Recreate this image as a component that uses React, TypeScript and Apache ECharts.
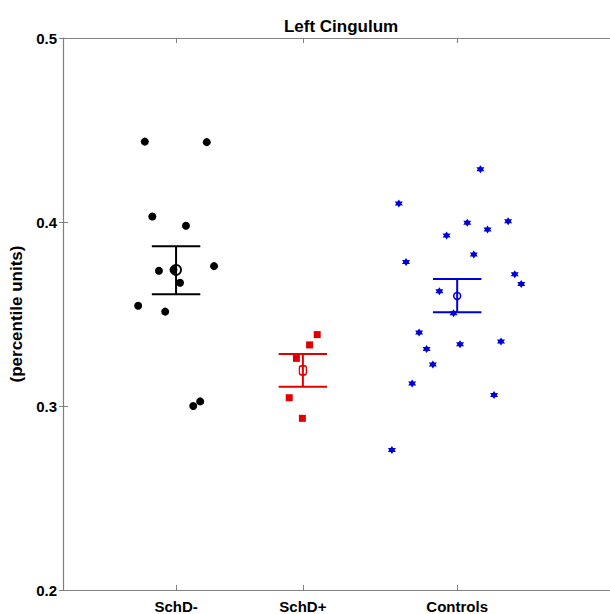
import React, { useEffect, useRef } from "react";
import * as echarts from "echarts";

// ---- data ----
const categories = ["SchD-", "SchD+", "Controls"];
const categoryPositions = [1.143, 2.425, 3.985];

const schdMinusJitter = [-0.316, 0.31, -0.24, 0.1, 0.384, -0.173, -0.026, 0.04, -0.383, -0.11, 0.174, 0.244];
const schdMinusValues = [0.4437, 0.4434, 0.403, 0.398, 0.376, 0.3735, 0.374, 0.367, 0.3545, 0.3513, 0.3, 0.3025];

const schdPlusJitter = [0.145, 0.068, -0.065, -0.138, -0.005];
const schdPlusValues = [0.3388, 0.3332, 0.3259, 0.3045, 0.2933];

const controlsJitter = [0.235, -0.59, 0.102, 0.515, 0.307, -0.107, 0.168, -0.517, 0.582, 0.648, -0.18, -0.037, -0.385, 0.443, 0.029, -0.309, -0.246, -0.455, 0.373, -0.66];
const controlsValues = [0.4287, 0.41, 0.3996, 0.4004, 0.3959, 0.3927, 0.3823, 0.3783, 0.3716, 0.3663, 0.3623, 0.3504, 0.3399, 0.3351, 0.3335, 0.331, 0.3225, 0.3122, 0.306, 0.2761];

const groupMeans = [0.374, 0.3194, 0.3598];
const groupLower = [0.3608, 0.3105, 0.3509];
const groupUpper = [0.3868, 0.3283, 0.369];

const yTicks = [0.2, 0.3, 0.4, 0.5];

// ---- styles ----
const COLORS = ["#000000", "#e00000", "#0000d8"];
const AXIS_COLOR = "#808080";
const FONT = "'Liberation Sans', Arial, Helvetica, sans-serif";
const CAP = 0.245;
const STAR =
  "path://M0,-10L2.9,-5L8.66,-5L5.8,0L8.66,5L2.9,5L0,10L-2.9,5L-8.66,5L-5.8,0L-8.66,-5L-2.9,-5Z";

function pts(center: number, jit: number[], vals: number[]) {
  return vals.map((v, i) => [center + jit[i], v]);
}

export default function App() {
  const ref = useRef<HTMLDivElement>(null);
  useEffect(() => {
    if (!ref.current) return;
    const chart = echarts.init(ref.current, null, { renderer: "svg" });
    const labelFor = (v: number) => {
      let best = 0;
      categoryPositions.forEach((p, i) => {
        if (Math.abs(p - v) < Math.abs(categoryPositions[best] - v)) best = i;
      });
      return categories[best];
    };
    const xCommon = {
      type: "value",
      min: 0,
      max: 5.53,
      splitLine: { show: false },
      axisLine: { show: true, onZero: false, lineStyle: { color: AXIS_COLOR, width: 1.2 } },
    };
    const yCommon = {
      type: "value",
      min: 0.2,
      max: 0.5,
      interval: 0.1,
      splitLine: { show: false },
      axisLine: { show: true, onZero: false, lineStyle: { color: AXIS_COLOR, width: 1.2 } },
      axisTick: { show: true, inside: true, length: 5, lineStyle: { color: AXIS_COLOR } },
    };
    chart.setOption({
      animation: false,
      backgroundColor: "#ffffff",
      title: {
        text: "Left Cingulum",
        left: 336,
        textAlign: "center",
        top: 13,
        textStyle: { fontFamily: FONT, fontWeight: "bold", fontSize: 17, color: "#000" },
      },
      grid: { left: 59, right: -3, top: 38, bottom: 23, containLabel: false },
      xAxis: [
        {
          ...xCommon,
          position: "bottom",
          axisTick: { show: true, inside: true, length: 5, customValues: categoryPositions, lineStyle: { color: AXIS_COLOR } },
          axisLabel: {
            show: true,
            customValues: categoryPositions,
            formatter: (v: number) => labelFor(v),
            margin: 9,
            fontFamily: FONT,
            fontWeight: "bold",
            fontSize: 15,
            color: "#000",
          },
        },
        {
          ...xCommon,
          position: "top",
          axisTick: { show: true, inside: true, length: 5, customValues: categoryPositions, lineStyle: { color: AXIS_COLOR } },
          axisLabel: { show: false },
        },
      ],
      yAxis: [
        {
          ...yCommon,
          position: "left",
          name: "(percentile units)",
          nameLocation: "middle",
          nameRotate: 90,
          nameGap: 38,
          nameTextStyle: { fontFamily: FONT, fontWeight: "bold", fontSize: 17, color: "#000" },
          axisLabel: {
            show: true,
            margin: 6,
            customValues: yTicks,
            formatter: (v: number) => v.toFixed(1),
            fontFamily: FONT,
            fontWeight: "bold",
            fontSize: 15,
            color: "#000",
          },
        },
        {
          ...yCommon,
          position: "right",
          axisLine: { show: false },
          axisTick: { show: true, inside: true, length: 4, lineStyle: { color: AXIS_COLOR } },
          axisLabel: { show: false },
        },
      ],
      series: [
        {
          type: "scatter",
          symbol: "circle",
          symbolSize: 8,
          itemStyle: { color: COLORS[0], opacity: 1 },
          data: pts(categoryPositions[0], schdMinusJitter, schdMinusValues),
        },
        {
          type: "scatter",
          symbol: "rect",
          symbolSize: 7,
          itemStyle: { color: COLORS[1], opacity: 1 },
          data: pts(categoryPositions[1], schdPlusJitter, schdPlusValues),
        },
        {
          type: "scatter",
          symbol: STAR,
          symbolSize: 8,
          itemStyle: { color: COLORS[2], opacity: 1 },
          data: pts(categoryPositions[2], controlsJitter, controlsValues),
        },
        {
          type: "custom",
          z: 5,
          data: categoryPositions.map((p, i) => [p, groupLower[i], groupUpper[i], i]),
          renderItem: (params: any, api: any) => {
            const x = api.value(0);
            const lo = api.value(1);
            const hi = api.value(2);
            const c = COLORS[api.value(3)];
            const a = api.coord([x, lo]);
            const b = api.coord([x, hi]);
            const l1 = api.coord([x - CAP, lo]);
            const r1 = api.coord([x + CAP, lo]);
            const l2 = api.coord([x - CAP, hi]);
            const r2 = api.coord([x + CAP, hi]);
            const style = { stroke: c, lineWidth: 2 };
            return {
              type: "group",
              children: [
                { type: "line", shape: { x1: a[0], y1: a[1], x2: b[0], y2: b[1] }, style },
                { type: "line", shape: { x1: l1[0], y1: l1[1], x2: r1[0], y2: r1[1] }, style },
                { type: "line", shape: { x1: l2[0], y1: l2[1], x2: r2[0], y2: r2[1] }, style },
              ],
            };
          },
        },
        {
          type: "scatter",
          z: 6,
          symbol: "circle",
          symbolSize: 10,
          itemStyle: { color: "rgba(0,0,0,0)", borderColor: COLORS[0], borderWidth: 1.8, opacity: 1 },
          data: [[categoryPositions[0], groupMeans[0]]],
        },
        {
          type: "scatter",
          z: 6,
          symbol: "roundRect",
          symbolSize: [7, 9],
          itemStyle: { color: "rgba(0,0,0,0)", borderColor: COLORS[1], borderWidth: 1.5, opacity: 1 },
          data: [[categoryPositions[1], groupMeans[1]]],
        },
        {
          type: "scatter",
          z: 6,
          symbol: "circle",
          symbolSize: 7,
          itemStyle: { color: "rgba(0,0,0,0)", borderColor: COLORS[2], borderWidth: 1.5, opacity: 1 },
          data: [[categoryPositions[2], groupMeans[2]]],
        },
      ],
    });
    return () => chart.dispose();
  }, []);
  return (
    <div
      ref={ref}
      style={{ position: "absolute", left: 0, top: 0, width: 610, height: 614, background: "#fff" }}
    />
  );
}
